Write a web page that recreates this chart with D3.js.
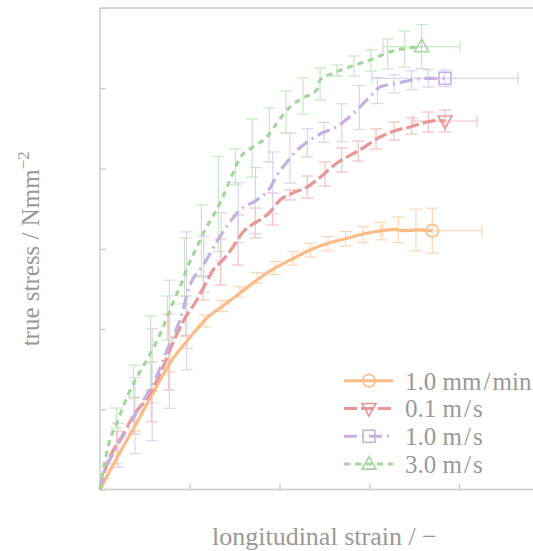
<!DOCTYPE html>
<html><head><meta charset="utf-8">
<script src="https://cdn.jsdelivr.net/npm/d3@7"></script>
<style>body{margin:0;background:#fff} svg{display:block}</style>
</head><body>
<svg id="c" width="533" height="551"></svg>
<script>
// ---- data ----
const xTicks = [0, 5, 10, 15, 20, 25];
const yTicks = [0, 10, 20, 30, 40, 50, 60];
const labels = ["1.0 mm\u200A/\u200Amin", "0.1 m\u200A/\u200As", "1.0 m\u200A/\u200As", "3.0 m\u200A/\u200As"];

const orangeStrain = [0,1.00,2.01,2.95,4.01,4.90,5.96,6.91,7.80,8.75,9.47,10.75,11.70,12.70,13.76,14.65,15.60,16.43,16.88,17.66,18.51];
const orangeStress = [0,4.17,8.16,12.02,16.14,18.63,21.37,22.99,24.49,26.11,27.23,28.77,29.84,30.68,31.30,31.84,32.21,32.42,32.25,32.34,32.25];
const orangeBarStrain = [0.92,1.91,2.89,3.87,4.85,5.83,6.81,7.79,8.77,9.75,10.74,11.72,12.70,13.68,14.66,15.64,16.62,17.60,18.51];
const orangeBarStress = [3.80,7.91,11.53,15.51,18.38,21.00,22.87,24.61,26.36,27.60,28.81,29.81,30.62,31.24,31.75,32.21,32.37,32.34,32.25];
const orangeBarErr = [0.6,0.6,0.7,0.85,0.8,0.75,0.7,0.65,0.65,0.8,0.85,0.85,0.9,0.9,1.0,1.1,1.6,2.6,2.8];
const orangeEndStrainErr = 2.77;

const redStrain = [0,0.28,0.65,1.21,1.95,2.69,3.44,4.18,4.74,5.29,5.85,6.30,6.85,7.41,7.97,8.52,9.08,9.47,10.03,10.75,11.53,12.09,13.20,13.76,14.48,15.60,16.55,17.27,18.22,18.77,19.22];
const redStress = [0,2.43,4.51,6.58,9.50,11.56,14.89,18.88,21.37,23.24,25.48,27.35,28.60,30.22,32.09,33.08,33.83,34.58,36.07,36.95,37.69,38.57,40.69,41.43,42.31,43.93,44.80,45.17,45.79,45.96,45.92];
const redBarStrain = [0.93,1.89,2.86,3.83,4.79,5.75,6.72,7.69,8.65,9.62,10.58,11.55,12.53,13.47,14.39,15.38,16.38,17.36,18.29,19.22];
const redBarStress = [6.04,9.16,12.15,17.13,21.62,25.11,28.35,31.09,33.21,34.95,36.70,37.69,39.31,41.06,42.18,43.68,44.67,45.30,45.79,45.92];
const redBarErr = [1.25,2.24,3.74,4.74,2.49,1.50,2.87,3.12,1.87,1.99,0.62,1.37,1.50,1.50,1.25,1.25,1.12,1.0,1.25,1.37];
const redEndStrainErr = 1.78;

const purpleStrain = [0,0.09,0.46,0.84,1.58,2.33,3.06,3.90,4.46,5.01,5.76,6.57,7.24,7.80,8.73,9.47,9.86,10.42,10.81,11.33,12.26,13.19,13.76,14.30,15.04,15.60,16.53,17.27,18.20,19.22];
const purpleStress = [0,1.18,3.30,4.92,7.79,10.78,13.64,18.25,21.12,25.48,27.98,31.09,33.33,34.83,36.07,37.57,39.19,40.81,41.93,42.93,44.30,45.21,46.17,47.29,48.95,50.15,50.62,50.97,51.24,51.24];
const purpleBarStrain = [0.99,1.95,2.91,3.87,4.82,5.78,6.74,7.70,8.66,9.62,10.58,11.55,12.48,13.47,14.45,15.45,16.38,17.36,18.29,19.22];
const purpleBarStress = [5.50,9.20,13.05,18.10,23.50,28.07,31.50,34.50,36.00,38.20,41.30,43.20,44.50,45.70,47.60,49.70,50.55,51.00,51.24,51.24];
const purpleBarErr = [2.74,4.74,6.98,7.98,8.60,3.49,2.99,3.74,4.11,3.86,3.12,1.74,1.25,2.37,2.74,1.62,1.12,1.18,1.08,1.05];
const purpleEndStrainErr = 4.07;

const greenStrain = [0,0.11,0.45,1.00,1.56,2.12,2.67,3.06,3.45,3.79,4.18,4.57,4.90,5.40,5.85,6.30,6.69,7.24,7.80,8.52,9.30,9.86,10.58,11.31,12.07,12.26,12.98,13.93,15.04,16.16,17.09,17.92];
const greenStress = [0,1.56,5.30,8.66,11.78,14.27,16.39,18.01,19.88,21.74,23.86,25.86,27.85,30.22,32.34,34.08,35.70,38.57,41.31,42.68,43.93,45.67,47.66,48.79,49.78,51.03,51.86,52.69,53.52,54.55,54.98,55.18];
const greenBarStrain = [0.93,1.87,2.82,3.76,4.71,5.65,6.59,7.54,8.48,9.43,10.37,11.31,12.26,13.20,14.14,15.09,16.03,16.98,17.92];
const greenBarStress = [8.91,13.52,17.01,21.37,27.23,30.97,35.58,40.19,42.55,44.17,47.04,49.03,50.53,52.21,52.77,53.46,54.27,54.89,55.18];
const greenBarErr = [1.25,1.99,4.61,2.74,4.11,4.49,5.92,2.24,3.61,3.36,2.62,2.24,1.99,0.69,1.25,1.31,1.87,2.24,2.74];
const greenEndStrainErr = 2.14;

// ---- setup ----
const FONT = '"Liberation Serif", "Times New Roman", Times, "DejaVu Serif", serif';
const svg = d3.select("#c");
const x = d3.scaleLinear().domain([0, 25]).range([100, 548.75]);
const y = d3.scaleLinear().domain([0, 60]).range([489.5, 8]);
const axisCol = "#cccccc", textCol = "#999999";

const series = [
  {name: labels[0], xs: orangeStrain, ys: orangeStress, bx: orangeBarStrain, by: orangeBarStress, be: orangeBarErr, xe: orangeEndStrainErr,
   color: "#fdbb86", bar: "#fed6b5", dash: null, marker: "circle"},
  {name: labels[1], xs: redStrain, ys: redStress, bx: redBarStrain, by: redBarStress, be: redBarErr, xe: redEndStrainErr,
   color: "#eb9696", bar: "#f5c0c0", dash: "13,4", marker: "tridown"},
  {name: labels[2], xs: purpleStrain, ys: purpleStress, bx: purpleBarStrain, by: purpleBarStress, be: purpleBarErr, xe: purpleEndStrainErr,
   color: "#c6b1e3", bar: "#ded2ef", dash: "13,5,2,5", marker: "square"},
  {name: labels[3], xs: greenStrain, ys: greenStress, bx: greenBarStrain, by: greenBarStress, be: greenBarErr, xe: greenEndStrainErr,
   color: "#a3d89d", bar: "#c6e8c2", dash: "6,5", marker: "triup"}
];

// axes (ticks inward, no labels)
const gx = svg.append("g").attr("transform", "translate(0,489.5)")
  .call(d3.axisBottom(x).tickValues(xTicks).tickFormat("").tickSizeInner(-6).tickSizeOuter(0));
const gy = svg.append("g").attr("transform", "translate(100,0)")
  .call(d3.axisLeft(y).tickValues(yTicks).tickFormat("").tickSizeInner(-6).tickSizeOuter(0));
[gx, gy].forEach(g => { g.select(".domain").remove(); g.selectAll(".tick line").attr("stroke", axisCol).attr("stroke-width", 1.3); });

// spines
svg.append("line").attr("x1", 100).attr("x2", 533).attr("y1", y(0)).attr("y2", y(0)).attr("stroke", axisCol).attr("stroke-width", 1.5);
svg.append("line").attr("x1", 100).attr("x2", 533).attr("y1", y(60)).attr("y2", y(60)).attr("stroke", axisCol).attr("stroke-width", 1.5);
svg.append("line").attr("x1", 100).attr("x2", 100).attr("y1", y(0)).attr("y2", y(60)).attr("stroke", axisCol).attr("stroke-width", 1.5);

function drawMarker(g, type, cx, cy, color) {
  const sw = 1.6;
  if (type === "circle") {
    g.append("circle").attr("cx", cx).attr("cy", cy).attr("r", 6.3).attr("fill", "none").attr("stroke", color).attr("stroke-width", sw);
  } else if (type === "square") {
    g.append("rect").attr("x", cx - 6).attr("y", cy - 6).attr("width", 12).attr("height", 12).attr("fill", "none").attr("stroke", color).attr("stroke-width", sw);
  } else {
    const s = type === "triup" ? 1 : -1;
    const pts = [[cx, cy - 7.5 * s], [cx + 7, cy + 5 * s], [cx - 7, cy + 5 * s]];
    g.append("path").attr("d", "M" + pts.map(p => p.join(",")).join("L") + "Z")
      .attr("fill", "none").attr("stroke", color).attr("stroke-width", sw).attr("stroke-linejoin", "miter");
  }
}

const line = d3.line().x(d => x(d[0])).y(d => y(d[1])).curve(d3.curveMonotoneX);
const cap = 6;

// error bars first
series.forEach(s => {
  const g = svg.append("g").attr("stroke", s.bar).attr("stroke-width", 1.2).attr("fill", "none");
  s.bx.forEach((bx, i) => {
    const px = x(bx), y0 = y(s.by[i] - s.be[i]), y1 = y(s.by[i] + s.be[i]);
    g.append("line").attr("x1", px).attr("x2", px).attr("y1", y0).attr("y2", y1);
    g.append("line").attr("x1", px - cap).attr("x2", px + cap).attr("y1", y0).attr("y2", y0);
    g.append("line").attr("x1", px - cap).attr("x2", px + cap).attr("y1", y1).attr("y2", y1);
  });
  const lx = s.xs[s.xs.length - 1], ly = s.ys[s.ys.length - 1];
  const xa = x(lx - s.xe), xb = x(lx + s.xe), py = y(ly);
  g.append("line").attr("x1", xa).attr("x2", xb).attr("y1", py).attr("y2", py);
  g.append("line").attr("x1", xa).attr("x2", xa).attr("y1", py - cap).attr("y2", py + cap);
  g.append("line").attr("x1", xb).attr("x2", xb).attr("y1", py - cap).attr("y2", py + cap);
});

// lines and end markers
series.forEach(s => {
  const pts = s.xs.map((v, i) => [v, s.ys[i]]);
  svg.append("path").attr("d", line(pts)).attr("fill", "none").attr("stroke", s.color)
    .attr("stroke-width", 3.2).attr("stroke-dasharray", s.dash);
  const last = pts[pts.length - 1];
  drawMarker(svg, s.marker, x(last[0]), y(last[1]), s.color);
});

// legend
series.forEach((s, i) => {
  const ry = 380.7 + i * 27.8;
  const g = svg.append("g");
  g.append("line").attr("x1", 344).attr("x2", 393).attr("y1", ry).attr("y2", ry)
    .attr("stroke", s.color).attr("stroke-width", 3).attr("stroke-dasharray", s.dash);
  drawMarker(g, s.marker, 369, ry, s.color);
  g.append("text").attr("x", 405).attr("y", ry + 8.8).text(s.name)
    .attr("font-family", FONT).attr("font-size", 25).attr("fill", textCol);
});

// axis labels
svg.append("text").attr("x", (x(0) + x(25)) / 2).attr("y", 545).attr("text-anchor", "middle")
  .attr("font-family", FONT).attr("font-size", 26).attr("fill", textCol)
  .text("longitudinal strain / \u2212");
const yl = svg.append("text").attr("transform", `translate(39,${(y(0) + y(60)) / 2}) rotate(-90)`)
  .attr("text-anchor", "middle").attr("font-family", FONT).attr("font-size", 25).attr("fill", textCol);
yl.append("tspan").text("true stress / Nmm");
yl.append("tspan").attr("dy", -10).attr("font-size", 17).text("\u22122");
</script>
</body></html>
